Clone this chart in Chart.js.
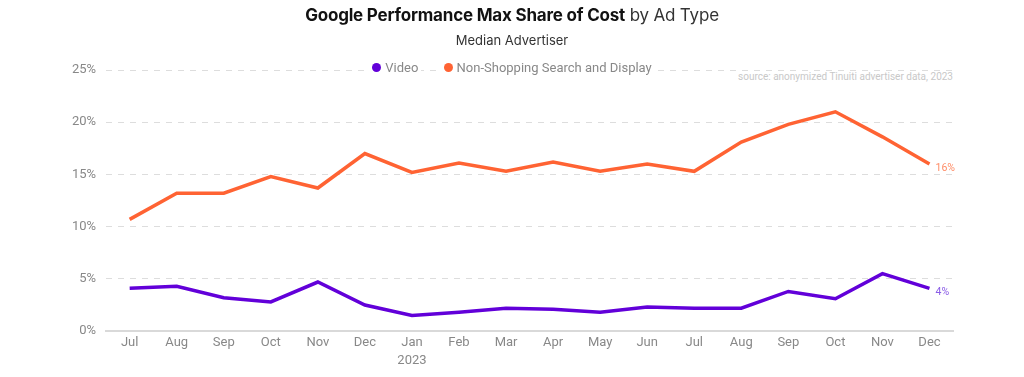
<!DOCTYPE html>
<html>
<head>
<meta charset="utf-8">
<script src="https://cdn.jsdelivr.net/npm/chart.js@4"></script>
<style>
  body { margin:0; background:#fff; font-family:Roboto, sans-serif; }
  .wrap { position:relative; width:1024px; height:377px; }
  canvas { position:absolute; left:0; top:0; }
  .title { position:absolute; top:5px; left:0; width:1024px; text-align:center; font-family:Inter, sans-serif; font-size:17px; color:#111; letter-spacing:-0.2px; }
  .title b { font-weight:700; }
  .title span { font-weight:400; color:#333; }
  .sub { position:absolute; top:32px; left:0; width:1024px; text-align:center; font-family:Inter, sans-serif; font-size:13px; color:#333; }
  .legend { position:absolute; top:60px; left:0; width:1024px; text-align:center; font-size:13px; color:#888; }
  .legend .item { background:#fff; padding:0 3px; margin:0 8px; }
  .legend .dot { display:inline-block; width:9px; height:9px; border-radius:50%; margin-right:4px; vertical-align:0px; }
  .source { position:absolute; top:71px; right:71px; font-size:10px; color:#c8c8c8; background:#fff; padding-left:3px; }
</style>
</head>
<body>
<div class="wrap">
  <canvas id="chart" width="1024" height="377"></canvas>
  <div class="title"><b>Google Performance Max Share of Cost</b> <span>by Ad Type</span></div>
  <div class="sub">Median Advertiser</div>
  <div class="legend">
    <span class="item"><span class="dot" style="background:#6200d9"></span>Video</span>
    <span class="item"><span class="dot" style="background:#ff6333"></span>Non-Shopping Search and Display</span>
  </div>
  <div class="source">source: anonymized Tinuiti advertiser data, 2023</div>
</div>
<script>
const months = ['Jul','Aug','Sep','Oct','Nov','Dec',['Jan','2023'],'Feb','Mar','Apr','May','Jun','Jul','Aug','Sep','Oct','Nov','Dec'];
const video = [4.1, 4.3, 3.2, 2.8, 4.7, 2.5, 1.5, 1.8, 2.2, 2.1, 1.8, 2.3, 2.2, 2.2, 3.8, 3.1, 5.5, 4.1];
const nonShopping = [10.7, 13.2, 13.2, 14.8, 13.7, 17.0, 15.2, 16.1, 15.3, 16.2, 15.3, 16.0, 15.3, 18.1, 19.8, 21.0, 18.6, 16.0];
const yTicks = [0, 5, 10, 15, 20, 25];

const purple = '#6200d9', orange = '#ff6333';

const endLabels = {
  id: 'endLabels',
  afterDatasetsDraw(chart) {
    const ctx = chart.ctx;
    ctx.save();
    ctx.font = '10.5px Roboto';
    ctx.textBaseline = 'middle';
    chart.data.datasets.forEach((ds, i) => {
      const meta = chart.getDatasetMeta(i);
      const pt = meta.data[meta.data.length - 1];
      const v = ds.data[ds.data.length - 1];
      ctx.fillStyle = ds.labelColor;
      ctx.fillText(Math.round(v) + '%', pt.x + 6, pt.y + 4);
    });
    ctx.restore();
  }
};

new Chart(document.getElementById('chart'), {
  type: 'line',
  data: {
    labels: months,
    datasets: [
      { label:'Video', data: video, borderColor: purple, labelColor:'#8a5ce6', borderWidth: 3.5, pointRadius: 0, tension: 0 },
      { label:'Non-Shopping Search and Display', data: nonShopping, borderColor: orange, labelColor:'#ff8c66', borderWidth: 3.5, pointRadius: 0, tension: 0 }
    ]
  },
  options: {
    responsive: false, animation: false,
    layout: { padding: { top: 70, left: 62, right: 71, bottom: 4 } },
    plugins: { legend: { display: false }, tooltip: { enabled: false } },
    scales: {
      x: {
        offset: true,
        grid: { display: false, drawTicks: false, tickLength: 0 },
        border: { color: '#d9d9d9', width: 2 },
        ticks: { color: '#888', font: { family: 'Roboto', size: 13, lineHeight: 1.38 }, padding: 3, maxRotation: 0, autoSkip: false }
      },
      y: {
        min: 0, max: 25,
        afterBuildTicks: axis => { axis.ticks = yTicks.map(v => ({ value: v })); },
        grid: { color: '#dddddd', lineWidth: 1, drawTicks: false },
        border: { display: false, dash: [6, 6] },
        ticks: { color: '#888', font: { family: 'Roboto', size: 13 }, padding: 10, callback: v => v + '%' }
      }
    }
  },
  plugins: [endLabels]
});
</script>
</body>
</html>
